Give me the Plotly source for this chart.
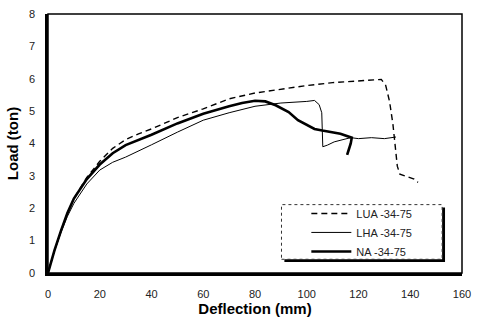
import plotly.graph_objects as go

# Data
lua_x = [0, 1, 2.5, 5, 7.5, 10, 15, 20, 25, 30, 35, 40, 50, 60, 70, 80, 90, 100, 110, 120,
         128.8, 130.5, 132, 133.3, 134.3, 135, 136, 138, 140, 141.5, 143]
lua_y = [0, 0.3, 0.7, 1.3, 1.85, 2.3, 2.95, 3.45, 3.85, 4.12, 4.3, 4.45, 4.8, 5.07, 5.38, 5.56,
         5.68, 5.79, 5.88, 5.93, 5.98, 5.8, 5.3, 4.6, 3.9, 3.3, 3.05, 3.0, 2.93, 2.9, 2.8]

lha_x = [0, 1, 2.5, 5, 7.5, 10, 15, 20, 25, 30, 35, 40, 50, 60, 70, 80, 90, 95, 100, 103,
         104.8, 105.8, 106, 106.2, 108, 110.6, 114, 117, 120, 125, 130, 134.5]
lha_y = [0, 0.3, 0.68, 1.25, 1.75, 2.15, 2.75, 3.18, 3.42, 3.58, 3.78, 3.96, 4.35, 4.72, 4.95,
         5.15, 5.25, 5.27, 5.3, 5.33, 5.2, 4.95, 4.4, 3.9, 3.95, 4.05, 4.12, 4.18, 4.15, 4.18,
         4.15, 4.2]

na_x = [0, 1, 2.5, 5, 7.5, 10, 15, 20, 25, 30, 35, 40, 50, 60, 70, 75, 80, 84, 88, 93, 96.6,
        100, 103, 106, 109.5, 113, 117.4, 117, 116.2, 115.6]
na_y = [0, 0.3, 0.7, 1.3, 1.85, 2.3, 2.9, 3.35, 3.7, 3.95, 4.1, 4.27, 4.62, 4.92, 5.15, 5.25,
        5.32, 5.3, 5.18, 4.97, 4.72, 4.58, 4.45, 4.4, 4.36, 4.3, 4.18, 4.0, 3.8, 3.65]

x_ticks = [0, 20, 40, 60, 80, 100, 120, 140, 160]
y_ticks = [0, 1, 2, 3, 4, 5, 6, 7, 8]

FONT = "Liberation Sans, Arial, sans-serif"

fig = go.Figure()
fig.add_trace(go.Scatter(x=lua_x, y=lua_y, mode="lines", name="LUA -34-75",
                         line=dict(color="black", width=1.4, dash="6px,4px")))
fig.add_trace(go.Scatter(x=lha_x, y=lha_y, mode="lines", name="LHA -34-75",
                         line=dict(color="black", width=1)))
fig.add_trace(go.Scatter(x=na_x, y=na_y, mode="lines", name="NA -34-75",
                         line=dict(color="black", width=2.6)))

fig.update_layout(
    width=479, height=322,
    margin=dict(l=48, r=11, t=8, b=49),
    paper_bgcolor="white", plot_bgcolor="white",
    font=dict(family=FONT, color="#222", size=11),
    showlegend=True,
    legend=dict(x=0.624, y=0.286, xanchor="left", yanchor="top",
                bgcolor="rgba(0,0,0,0)", borderwidth=0,
                font=dict(size=11, color="#222"),
                itemwidth=40, tracegroupgap=0),
    xaxis=dict(range=[0, 160], tickvals=x_ticks, ticktext=[str(v) for v in x_ticks],
               showgrid=False, zeroline=False, showline=True, linecolor="black", linewidth=2.5,
               ticks="", ticklabelstandoff=9,
               title=dict(text="<b>Deflection (mm)</b>", font=dict(size=15, color="black"),
                          standoff=4)),
    yaxis=dict(range=[0, 8], tickvals=y_ticks, ticktext=[str(v) for v in y_ticks],
               showgrid=False, zeroline=False, showline=True, linecolor="black", linewidth=2.5,
               ticks="", ticklabelstandoff=8,
               title=dict(text="<b>Load (ton)</b>", font=dict(size=15, color="black"),
                          standoff=7)),
    shapes=[
        dict(type="rect", xref="paper", yref="paper", x0=0, y0=0, x1=1, y1=1,
             line=dict(color="black", width=1.5)),
        # legend box shadow and frame
        dict(type="rect", xref="paper", yref="paper", x0=0.571, y0=0.042, x1=0.959, y1=0.253,
             line=dict(color="black", width=0), fillcolor="black"),
        dict(type="rect", xref="paper", yref="paper", x0=0.564, y0=0.053, x1=0.952, y1=0.264,
             line=dict(color="#333", width=1, dash="dot"), fillcolor="white"),
    ],
)

fig.write_html("out.html")
